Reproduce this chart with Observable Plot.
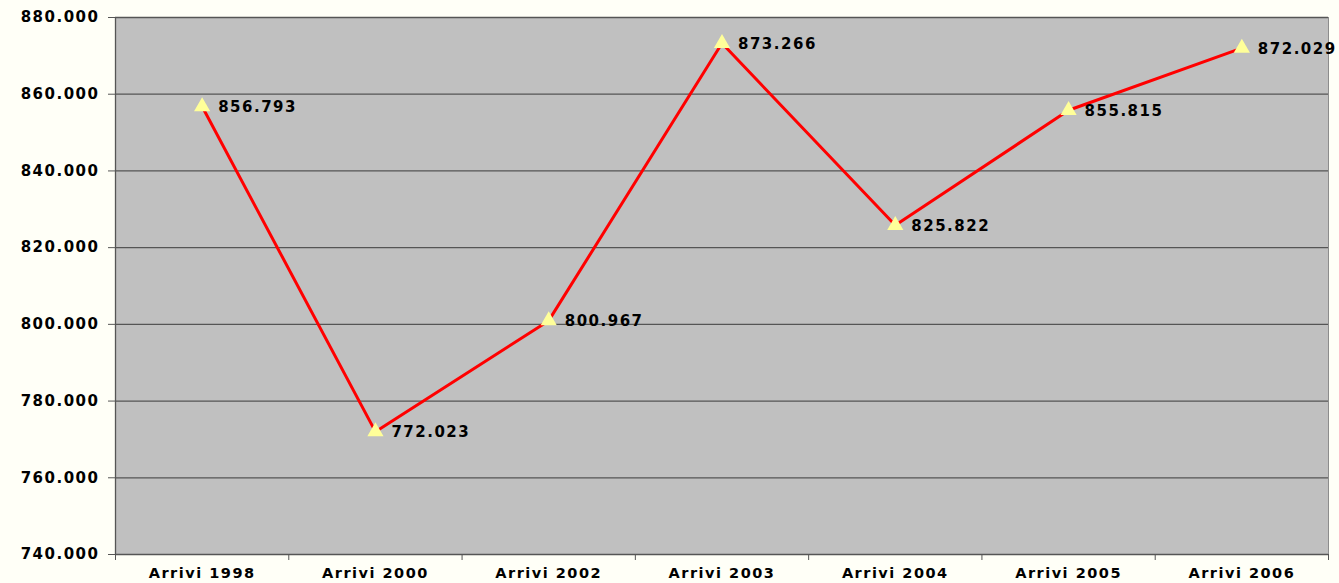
<!DOCTYPE html>
<html><head><meta charset="utf-8">
<script src="https://cdn.jsdelivr.net/npm/d3@7"></script>
<script src="https://cdn.jsdelivr.net/npm/@observablehq/plot@0.6"></script>
<style>
html,body{margin:0;padding:0;background:#FFFFF7;}
svg{display:block;}
svg text{letter-spacing:1.5px;}
</style></head><body>
<div id="chart"></div>
<script>
const categories = ["Arrivi 1998","Arrivi 2000","Arrivi 2002","Arrivi 2003","Arrivi 2004","Arrivi 2005","Arrivi 2006"];
const arrivals = [856793, 772023, 800967, 873266, 825822, 855815, 872029];
const yTicks = [740000, 760000, 780000, 800000, 820000, 840000, 860000, 880000];

const it = d3.formatLocale({decimal: ",", thousands: ".", grouping: [3], currency: ["€", ""]});
const fmt = it.format(",.0f");

const data = categories.map((c, i) => ({cat: c, pos: i + 0.5, value: arrivals[i]}));
const centers = categories.map((c, i) => i + 0.5);
const bounds = d3.range(categories.length + 1);
const FONT = "'DejaVu Sans', Verdana, sans-serif";

const chart = Plot.plot({
  width: 1339, height: 583,
  marginLeft: 115, marginRight: 11, marginTop: 17, marginBottom: 29,
  style: {background: "#FFFFF7", fontFamily: FONT},
  x: {domain: [0, categories.length], axis: null},
  y: {domain: [740000, 880000], axis: null},
  marks: [
    Plot.frame({fill: "#C0C0C0", stroke: "#8C8C8C"}),
    Plot.ruleY(yTicks.slice(1), {stroke: "#555", strokeWidth: 1.3}),
    Plot.ruleX([0], {stroke: "#555", strokeWidth: 1.3}),
    Plot.ruleY([740000], {stroke: "#555", strokeWidth: 1.3}),
    Plot.axisY({ticks: yTicks, tickFormat: fmt, tickSize: 7, tickPadding: 9, stroke: "#555",
      fontSize: 15, fontWeight: "bold", fill: "#000", label: null}),
    Plot.axisX({ticks: bounds, tickFormat: () => "", tickSize: 6, stroke: "#555", label: null}),
    Plot.axisX({ticks: centers, tickFormat: (d) => categories[Math.round(d - 0.5)], tickSize: 0, tickPadding: 13,
      fontSize: 14.5, fontWeight: "bold", fill: "#000", label: null}),
    Plot.line(data, {x: "pos", y: "value", stroke: "#FF0000", strokeWidth: 3}),
    Plot.dot(data, {x: "pos", y: "value", symbol: "triangle", r: 6, fill: "#FFFF99", stroke: "none"}),
    Plot.text(data, {x: "pos", y: "value", text: d => fmt(d.value), textAnchor: "start", dx: 16, dy: 1,
      fontSize: 15, fontWeight: "bold", fill: "#000"})
  ]
});
document.getElementById("chart").appendChild(chart);
</script>
</body></html>
